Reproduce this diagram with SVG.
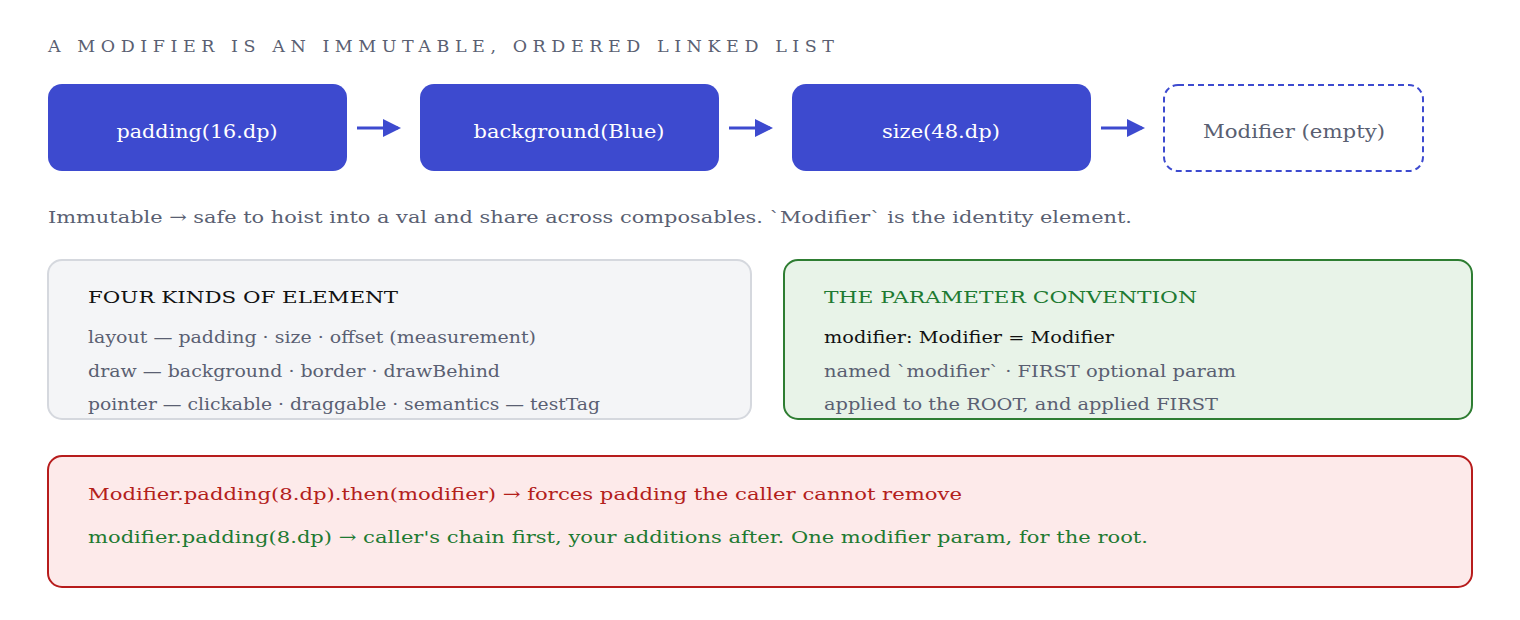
<svg xmlns="http://www.w3.org/2000/svg" width="1520" height="620" viewBox="0 0 1520 620">
<style>
text{font-family:"DejaVu Serif","Liberation Serif",serif;}
.node{fill:#3d4acf;}
.nt{fill:#fff;font-size:19px;text-anchor:middle;}
.muted{fill:#5a5f72;font-size:17.5px;}
.dark{fill:#111;font-size:17.5px;}
.green{fill:#1e7a32;font-size:17.5px;}
.red{fill:#b3201b;font-size:17.5px;}
.conn{stroke:#3d4acf;stroke-width:3;fill:none;}
</style>
<defs><marker id="ah" markerWidth="6" markerHeight="6" refX="5" refY="3" orient="auto" markerUnits="strokeWidth"><path d="M0,0 L6,3 L0,6 Z" fill="#3d4acf"/></marker></defs>
<rect width="1520" height="620" fill="#fff"/>
<text x="48" y="52" class="muted" textLength="786" lengthAdjust="spacing">A MODIFIER IS AN IMMUTABLE, ORDERED LINKED LIST</text>
<g id="n1"><rect x="48" y="84" width="299" height="87" rx="14" class="node"/><text x="197" y="138" class="nt" textLength="161" lengthAdjust="spacingAndGlyphs">padding(16.dp)</text></g>
<g id="n2"><rect x="420" y="84" width="299" height="87" rx="14" class="node"/><text x="569" y="138" class="nt" textLength="191" lengthAdjust="spacingAndGlyphs">background(Blue)</text></g>
<g id="n3"><rect x="792" y="84" width="299" height="87" rx="14" class="node"/><text x="941" y="138" class="nt" textLength="118" lengthAdjust="spacingAndGlyphs">size(48.dp)</text></g>
<g id="n4"><rect x="1164" y="85" width="259" height="86" rx="14" fill="#fff" stroke="#3d4acf" stroke-width="2" stroke-dasharray="6,4"/><text x="1294" y="138" class="muted" style="font-size:19px;text-anchor:middle" textLength="182" lengthAdjust="spacingAndGlyphs">Modifier (empty)</text></g>
<g id="connectors">
<line x1="357" y1="128" x2="398" y2="128" class="conn" marker-end="url(#ah)"/>
<line x1="729" y1="128" x2="770" y2="128" class="conn" marker-end="url(#ah)"/>
<line x1="1101" y1="128" x2="1142" y2="128" class="conn" marker-end="url(#ah)"/>
</g>
<text x="48" y="223" class="muted" textLength="1084" lengthAdjust="spacingAndGlyphs">Immutable → safe to hoist into a val and share across composables. `Modifier` is the identity element.</text>
<g id="kinds"><rect x="48" y="260" width="703" height="159" rx="14" fill="#f4f5f7" stroke="#d5d8de" stroke-width="2"/>
<text x="88" y="303" class="dark" textLength="310" lengthAdjust="spacingAndGlyphs">FOUR KINDS OF ELEMENT</text>
<text x="88" y="343" class="muted" textLength="448" lengthAdjust="spacingAndGlyphs">layout — padding · size · offset (measurement)</text>
<text x="88" y="377" class="muted" textLength="412" lengthAdjust="spacingAndGlyphs">draw — background · border · drawBehind</text>
<text x="88" y="410" class="muted" textLength="512" lengthAdjust="spacingAndGlyphs">pointer — clickable · draggable · semantics — testTag</text></g>
<g id="convention"><rect x="784" y="260" width="688" height="159" rx="14" fill="#e8f3e8" stroke="#2e7d32" stroke-width="2"/>
<text x="824" y="303" class="green" textLength="373" lengthAdjust="spacingAndGlyphs">THE PARAMETER CONVENTION</text>
<text x="824" y="343" class="dark" textLength="290" lengthAdjust="spacingAndGlyphs">modifier: Modifier = Modifier</text>
<text x="824" y="377" class="muted" textLength="412" lengthAdjust="spacingAndGlyphs">named `modifier` · FIRST optional param</text>
<text x="824" y="410" class="muted" textLength="394" lengthAdjust="spacingAndGlyphs">applied to the ROOT, and applied FIRST</text></g>
<g id="warning"><rect x="48" y="456" width="1424" height="131" rx="14" fill="#fdeaea" stroke="#b71c1c" stroke-width="2"/>
<text x="88" y="500" class="red" textLength="874" lengthAdjust="spacingAndGlyphs">Modifier.padding(8.dp).then(modifier) → forces padding the caller cannot remove</text>
<text x="88" y="543" class="green" textLength="1060" lengthAdjust="spacingAndGlyphs">modifier.padding(8.dp) → caller's chain first, your additions after. One modifier param, for the root.</text></g>
</svg>
